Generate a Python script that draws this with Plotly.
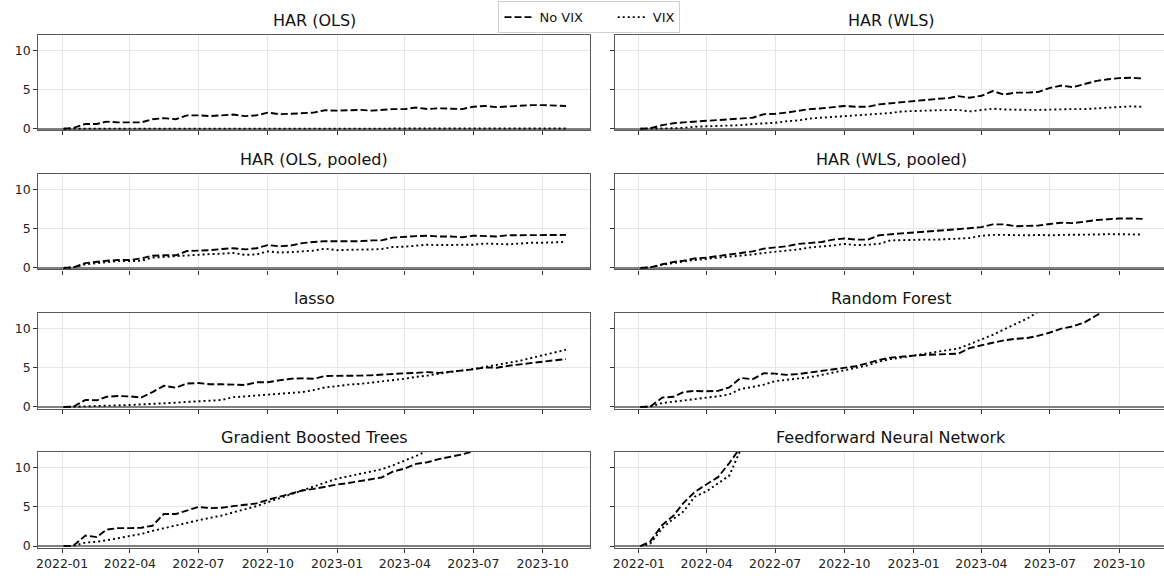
import plotly.graph_objects as go

# Observation dates (semi-monthly)
dates = ["2022-01-03", "2022-01-16", "2022-02-01", "2022-02-16", "2022-03-01", "2022-03-16",
         "2022-04-01", "2022-04-16", "2022-05-01", "2022-05-16", "2022-06-01", "2022-06-16",
         "2022-07-01", "2022-07-16", "2022-08-01", "2022-08-16", "2022-09-01", "2022-09-16",
         "2022-10-01", "2022-10-16", "2022-11-01", "2022-11-16", "2022-12-01", "2022-12-16",
         "2023-01-01", "2023-01-16", "2023-02-01", "2023-02-16", "2023-03-01", "2023-03-16",
         "2023-04-01", "2023-04-16", "2023-05-01", "2023-05-16", "2023-06-01", "2023-06-16",
         "2023-07-01", "2023-07-16", "2023-08-01", "2023-08-16", "2023-09-01", "2023-09-16",
         "2023-10-01", "2023-10-16", "2023-11-01"]

model_names = ["HAR (OLS)", "HAR (WLS)", "HAR (OLS, pooled)", "HAR (WLS, pooled)",
               "lasso", "Random Forest", "Gradient Boosted Trees", "Feedforward Neural Network"]

# Cumulative values, model without VIX
har_ols_novix = [0, 0.1, 0.6, 0.6, 0.9, 0.8, 0.8, 0.8, 1.2, 1.35, 1.2, 1.7, 1.7, 1.6, 1.7,
                 1.8, 1.6, 1.7, 2.05, 1.85, 1.9, 2.0, 2.05, 2.35, 2.3, 2.35, 2.4, 2.3, 2.4,
                 2.5, 2.5, 2.7, 2.5, 2.6, 2.55, 2.5, 2.8, 2.9, 2.75, 2.85, 2.95, 3.0, 3.0,
                 2.95, 2.9]
har_wls_novix = [0, 0.05, 0.45, 0.7, 0.8, 0.9, 1.0, 1.1, 1.2, 1.35, 1.4, 1.85, 1.9, 2.05,
                 2.3, 2.5, 2.6, 2.75, 2.9, 2.8, 2.8, 3.1, 3.25, 3.4, 3.5, 3.7, 3.8, 3.9, 4.15,
                 3.95, 4.2, 4.8, 4.35, 4.6, 4.6, 4.7, 5.2, 5.5, 5.3, 5.7, 6.1, 6.3, 6.45, 6.5,
                 6.4]
har_ols_pooled_novix = [0, 0.05, 0.6, 0.8, 0.9, 1.0, 1.0, 1.2, 1.55, 1.6, 1.6, 2.15, 2.2,
                        2.25, 2.4, 2.5, 2.35, 2.5, 2.9, 2.75, 2.85, 3.15, 3.3, 3.4, 3.4, 3.4,
                        3.4, 3.5, 3.5, 3.85, 4.0, 4.05, 4.1, 4.0, 4.0, 3.9, 4.1, 4.05, 4.0,
                        4.15, 4.15, 4.15, 4.2, 4.2, 4.2]
har_wls_pooled_novix = [0, 0.05, 0.45, 0.75, 0.9, 1.2, 1.3, 1.5, 1.65, 1.85, 2.1, 2.45, 2.6,
                        2.75, 3.05, 3.2, 3.3, 3.6, 3.75, 3.6, 3.6, 4.15, 4.3, 4.4, 4.5, 4.6,
                        4.7, 4.8, 4.95, 5.05, 5.2, 5.55, 5.55, 5.3, 5.35, 5.4, 5.6, 5.75, 5.7,
                        5.9, 6.1, 6.2, 6.3, 6.3, 6.25]
lasso_novix = [0, 0.05, 0.9, 0.85, 1.3, 1.4, 1.35, 1.2, 1.9, 2.7, 2.45, 3.0, 3.05, 2.9, 2.9,
               2.85, 2.8, 3.15, 3.15, 3.4, 3.6, 3.65, 3.6, 3.95, 3.95, 3.95, 4.0, 4.05, 4.15,
               4.25, 4.3, 4.35, 4.45, 4.35, 4.5, 4.6, 4.8, 5.05, 5.0, 5.25, 5.45, 5.6, 5.8,
               5.95, 6.1]
rf_novix = [0, 0.05, 1.2, 1.3, 1.9, 2.05, 2.0, 2.05, 2.5, 3.7, 3.55, 4.3, 4.25, 4.1, 4.2,
            4.4, 4.6, 4.75, 5.0, 5.2, 5.6, 6.0, 6.3, 6.45, 6.55, 6.65, 6.7, 6.75, 6.8, 7.5,
            7.9, 8.2, 8.5, 8.7, 8.8, 9.1, 9.5, 10.0, 10.3, 10.8, 11.7, 12.5, None, None, None]
gbt_novix = [0, 0.05, 1.35, 1.15, 2.1, 2.3, 2.3, 2.35, 2.6, 4.1, 4.1, 4.6, 5.0, 4.85, 4.9,
             5.1, 5.3, 5.45, 5.9, 6.3, 6.7, 7.1, 7.3, 7.6, 7.85, 8.05, 8.3, 8.5, 8.75, 9.5,
             9.9, 10.5, 10.7, 11.1, 11.4, 11.7, 12.1, None, None, None, None, None, None,
             None, None]
ffnn_novix = [0, 0.6, 2.7, 3.9, 5.5, 6.9, 7.9, 8.8, 10.6, 12.6, None, None, None, None, None,
              None, None, None, None, None, None, None, None, None, None, None, None, None,
              None, None, None, None, None, None, None, None, None, None, None, None, None,
              None, None, None, None]

# Cumulative values, model with VIX
har_ols_vix = [0, 0.0, 0.02, 0.02, 0.02, 0.02, 0.02, 0.02, 0.02, 0.02, 0.02, 0.02, 0.02,
               0.02, 0.02, 0.02, 0.02, 0.02, 0.02, 0.02, 0.02, 0.02, 0.02, 0.02, 0.02, 0.02,
               0.02, 0.02, 0.02, 0.02, 0.02, 0.02, 0.02, 0.02, 0.02, 0.02, 0.02, 0.02, 0.02,
               0.02, 0.02, 0.02, 0.02, 0.02, 0.02]
har_wls_vix = [0, 0, 0.02, 0.05, 0.1, 0.25, 0.3, 0.35, 0.4, 0.45, 0.6, 0.65, 0.75, 0.95,
               1.05, 1.3, 1.45, 1.5, 1.6, 1.7, 1.8, 1.85, 2.0, 2.2, 2.3, 2.3, 2.35, 2.4, 2.4,
               2.2, 2.35, 2.55, 2.45, 2.4, 2.4, 2.4, 2.45, 2.45, 2.5, 2.5, 2.6, 2.7, 2.8,
               2.85, 2.8]
har_ols_pooled_vix = [0, 0.05, 0.45, 0.6, 0.75, 0.85, 0.85, 0.9, 1.3, 1.4, 1.5, 1.6, 1.7,
                      1.75, 1.8, 1.9, 1.65, 1.7, 2.1, 1.95, 2.0, 2.1, 2.2, 2.45, 2.25, 2.3,
                      2.3, 2.35, 2.4, 2.65, 2.7, 2.8, 2.95, 2.9, 2.9, 2.9, 2.95, 3.1, 3.05,
                      3.0, 3.1, 3.2, 3.2, 3.25, 3.3]
har_wls_pooled_vix = [0, 0.05, 0.4, 0.65, 0.8, 1.0, 1.15, 1.25, 1.35, 1.5, 1.7, 1.9, 2.05,
                      2.2, 2.35, 2.6, 2.7, 2.85, 3.05, 2.9, 2.95, 3.05, 3.5, 3.55, 3.6, 3.6,
                      3.6, 3.65, 3.7, 3.8, 4.1, 4.2, 4.2, 4.15, 4.15, 4.2, 4.15, 4.2, 4.2,
                      4.25, 4.25, 4.3, 4.3, 4.3, 4.25]
lasso_vix = [0, 0.02, 0.1, 0.12, 0.15, 0.2, 0.25, 0.3, 0.35, 0.45, 0.55, 0.65, 0.7, 0.8, 0.9,
             1.25, 1.35, 1.45, 1.5, 1.6, 1.75, 1.9, 2.15, 2.5, 2.65, 2.85, 2.95, 3.1, 3.2,
             3.35, 3.6, 3.85, 4.0, 4.25, 4.45, 4.6, 4.85, 5.1, 5.35, 5.6, 5.9, 6.25, 6.6,
             6.95, 7.3]
rf_vix = [0, 0.05, 0.5, 0.65, 0.8, 1.0, 1.2, 1.35, 1.6, 2.3, 2.55, 2.85, 3.3, 3.45, 3.65, 3.8,
          4.1, 4.4, 4.7, 5.0, 5.3, 5.8, 6.1, 6.3, 6.6, 6.8, 7.05, 7.25, 7.45, 8.0, 8.6, 9.2,
          9.9, 10.6, 11.3, 12.2, None, None, None, None, None, None, None, None, None]
gbt_vix = [0, 0.05, 0.45, 0.55, 0.75, 1.0, 1.3, 1.55, 1.95, 2.3, 2.6, 3.0, 3.3, 3.6, 3.9, 4.3,
           4.7, 5.1, 5.6, 6.1, 6.6, 7.2, 7.6, 8.1, 8.6, 8.9, 9.2, 9.5, 9.8, 10.3, 10.9, 11.5,
           12.2, None, None, None, None, None, None, None, None, None, None, None, None]
ffnn_vix = [0, 0.3, 2.3, 3.5, 4.4, 6.3, 7.0, 8.0, 9.0, 12.3, None, None, None, None, None,
            None, None, None, None, None, None, None, None, None, None, None, None, None,
            None, None, None, None, None, None, None, None, None, None, None, None, None,
            None, None, None, None]

novix_series = [har_ols_novix, har_wls_novix, har_ols_pooled_novix, har_wls_pooled_novix,
                lasso_novix, rf_novix, gbt_novix, ffnn_novix]
vix_series = [har_ols_vix, har_wls_vix, har_ols_pooled_vix, har_wls_pooled_vix,
              lasso_vix, rf_vix, gbt_vix, ffnn_vix]

y_ticks = [0, 5, 10]

W, H = 1164, 581
FONT = "DejaVu Sans"
NBSP = "\u00a0"

# panel geometry in pixels
col_x = [(35.5, 589.0), (614.0, 1164.0)]
row_top = [35.0, 175.6, 316.2, 456.8]
panel_h = 96.6
x_ranges = [["2021-11-30 12:00", "2023-12-03 12:00"],
            ["2021-11-30 18:00", "2023-11-29 12:00"]]

fig = go.Figure()
annotations = []

for i, name in enumerate(model_names):
    r, c = divmod(i, 2)
    n = i + 1
    xa = "x" if n == 1 else f"x{n}"
    ya = "y" if n == 1 else f"y{n}"
    fig.add_trace(go.Scatter(
        x=dates, y=novix_series[i], xaxis=xa, yaxis=ya, mode="lines",
        name="No VIX" + NBSP * 6,
        line=dict(color="black", width=1.9, dash="7px,3px"), showlegend=(i == 0),
        connectgaps=False))
    fig.add_trace(go.Scatter(
        x=dates, y=vix_series[i], xaxis=xa, yaxis=ya, mode="lines", name="VIX",
        line=dict(color="black", width=1.9, dash="2px,3px"), showlegend=(i == 0),
        connectgaps=False))

    x0, x1 = col_x[c]
    top = row_top[r]
    bot = top + panel_h
    xdom = [x0 / W, x1 / W]
    ydom = [1 - bot / H, 1 - top / H]
    bottom_row = r == 3

    xkey = "xaxis" if n == 1 else f"xaxis{n}"
    ykey = "yaxis" if n == 1 else f"yaxis{n}"
    fig.update_layout({
        xkey: dict(
            domain=xdom, anchor=ya, type="date", range=x_ranges[c],
            tick0="2022-01-01", dtick="M3", tickformat="%Y-%m",
            showticklabels=bottom_row, ticks="outside", ticklen=4, tickwidth=1,
            tickcolor="#333333", showgrid=True, gridcolor="#e6e6e6", gridwidth=1,
            showline=True, linecolor="#5a5a5a", linewidth=1.3, mirror=True,
            zeroline=False,
            tickfont=dict(family=FONT, size=12.5, color="#222222")),
        ykey: dict(
            domain=ydom, anchor=xa, range=[-0.2, 12], tickvals=y_ticks,
            showticklabels=(c == 0), ticks="outside", ticklen=4, tickwidth=1,
            tickcolor="#333333", showgrid=True, gridcolor="#e6e6e6", gridwidth=1,
            showline=True, linecolor="#5a5a5a", linewidth=1.3, mirror=(c == 0),
            zeroline=True, zerolinecolor="#808080", zerolinewidth=2.2,
            tickfont=dict(family=FONT, size=12.5, color="#222222")),
    })

    # titles are centred on the full panel width (right column extends past the page edge)
    cx = (x0 + x1) / 2 if c == 0 else (x0 + x0 + (589.0 - 35.5)) / 2
    annotations.append(dict(
        text=name, xref="paper", yref="paper", x=cx / W,
        y=ydom[1], xanchor="center", yanchor="bottom", yshift=3, showarrow=False,
        font=dict(family=FONT, size=16, color="#111111")))

fig.update_layout(
    width=W, height=H,
    margin=dict(l=0, r=0, t=0, b=0),
    paper_bgcolor="white", plot_bgcolor="white",
    font=dict(family=FONT, color="#111111"),
    annotations=annotations,
    legend=dict(orientation="h", x=588 / W, xanchor="center", y=0.998, yanchor="top",
                bgcolor="white", bordercolor="#d0d0d0", borderwidth=1,
                font=dict(family=FONT, size=13, color="#111111"),
                itemwidth=30, tracegroupgap=0),
)

fig.write_html("out.html")
